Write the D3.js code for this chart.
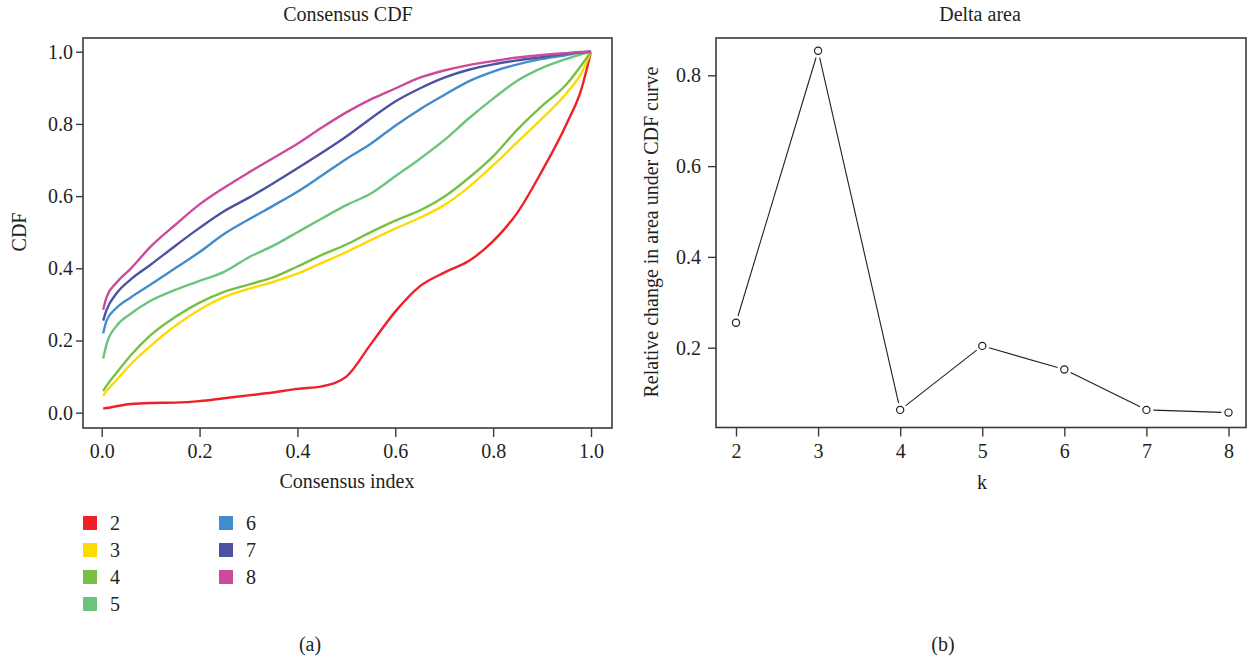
<!DOCTYPE html>
<html><head><meta charset="utf-8">
<script src="https://cdn.jsdelivr.net/npm/d3@7"></script>
<style>
body{margin:0;background:#fff}
text{font-family:"Liberation Serif","Times New Roman",serif;fill:#231f20}
</style>
</head><body>
<svg id="c" width="1249" height="659"></svg>
<script>
// ---- data ----
const consensusIndex = [0.003,0.01,0.03,0.06,0.1,0.15,0.2,0.25,0.3,0.35,0.4,0.45,0.5,0.55,0.6,0.65,0.7,0.75,0.8,0.85,0.9,0.95,0.98,1.0];
const cdf2 = [0.012,0.013,0.018,0.024,0.027,0.028,0.032,0.040,0.048,0.056,0.066,0.073,0.100,0.190,0.280,0.350,0.388,0.420,0.475,0.555,0.670,0.800,0.895,1.0];
const cdf3 = [0.047,0.060,0.090,0.135,0.185,0.240,0.285,0.320,0.343,0.362,0.385,0.415,0.445,0.478,0.510,0.540,0.575,0.625,0.685,0.750,0.815,0.885,0.940,1.0];
const cdf4 = [0.060,0.075,0.110,0.160,0.215,0.265,0.305,0.335,0.355,0.375,0.405,0.437,0.466,0.500,0.532,0.560,0.598,0.650,0.710,0.785,0.850,0.910,0.962,1.0];
const cdf5 = [0.150,0.190,0.240,0.275,0.310,0.340,0.365,0.390,0.430,0.462,0.500,0.538,0.575,0.607,0.655,0.703,0.755,0.815,0.870,0.920,0.955,0.980,0.993,1.0];
const cdf6 = [0.220,0.255,0.290,0.320,0.355,0.400,0.445,0.495,0.535,0.573,0.612,0.657,0.703,0.745,0.795,0.840,0.880,0.918,0.945,0.965,0.980,0.991,0.998,1.0];
const cdf7 = [0.255,0.285,0.330,0.370,0.410,0.462,0.512,0.558,0.595,0.635,0.677,0.720,0.765,0.815,0.862,0.898,0.928,0.950,0.965,0.976,0.985,0.995,0.998,1.0];
const cdf8 = [0.285,0.320,0.360,0.400,0.460,0.520,0.577,0.623,0.665,0.705,0.745,0.790,0.832,0.868,0.898,0.928,0.948,0.963,0.974,0.984,0.991,0.996,0.999,1.0];
const clusterLabels = ["2","3","4","5","6","7","8"];
const seriesColors = ["#ee2028","#fcdb00","#78c043","#6bc47e","#428bcc","#4b52a3","#cb4a9c"];
const clusterK = [2,3,4,5,6,7,8];
const deltaArea = [0.255,0.854,0.063,0.204,0.152,0.063,0.057];
const xTicksA = [0,0.2,0.4,0.6,0.8,1.0];
const yTicksA = [0,0.2,0.4,0.6,0.8,1.0];
const yTicksB = [0.2,0.4,0.6,0.8];

const cdfSeries = [cdf2,cdf3,cdf4,cdf5,cdf6,cdf7,cdf8];

const svg = d3.select("#c");
const FS = 20;
const fmt = d3.format(".1f");

// ---------- Panel (a) ----------
const boxA = {x0:83, x1:612, y0:38, y1:428};
const xA = d3.scaleLinear().domain([0,1]).range([101.7,591]);
const yA = d3.scaleLinear().domain([0,1]).range([412.7,51.7]);

const gA = svg.append("g");
const line = d3.line().x(d=>xA(d[0])).y(d=>yA(d[1])).curve(d3.curveMonotoneX);
cdfSeries.forEach((s,i)=>{
  gA.append("path")
    .datum(consensusIndex.map((x,j)=>[x,s[j]]))
    .attr("d",line).attr("fill","none")
    .attr("stroke",seriesColors[i]).attr("stroke-width",2.4)
    .attr("stroke-linejoin","round");
});
gA.append("rect").attr("x",boxA.x0).attr("y",boxA.y0)
  .attr("width",boxA.x1-boxA.x0).attr("height",boxA.y1-boxA.y0)
  .attr("fill","none").attr("stroke","#3a3a3a").attr("stroke-width",1.6);

const axXA = gA.append("g").attr("transform",`translate(0,${boxA.y1})`)
  .call(d3.axisBottom(xA).tickValues(xTicksA).tickFormat(fmt).tickSize(9).tickPadding(7));
const axYA = gA.append("g").attr("transform",`translate(${boxA.x0},0)`)
  .call(d3.axisLeft(yA).tickValues(yTicksA).tickFormat(fmt).tickSize(7).tickPadding(3));
[axXA,axYA].forEach(a=>{
  a.select(".domain").remove();
  a.selectAll("line").attr("stroke","#3a3a3a").attr("stroke-width",1.4);
  a.selectAll("text").style("font-size",FS+"px").attr("fill","#231f20");
});
gA.append("text").attr("x",348).attr("y",21).attr("text-anchor","middle").style("font-size",FS+"px").text("Consensus CDF");
gA.append("text").attr("x",347).attr("y",488).attr("text-anchor","middle").style("font-size",FS+"px").text("Consensus index");
gA.append("text").attr("transform","translate(26,232) rotate(-90)").attr("text-anchor","middle").style("font-size",FS+"px").text("CDF");

// legend
const leg = svg.append("g");
clusterLabels.forEach((lab,i)=>{
  const col = i<4?0:1, row = i<4?i:i-4;
  const lx = col===0?83:219, ly = 523 + row*27;
  leg.append("rect").attr("x",lx).attr("y",ly-7).attr("width",14).attr("height",14).attr("fill",seriesColors[i]);
  leg.append("text").attr("x",lx+27).attr("y",ly+6.5).style("font-size",FS+"px").text(lab);
});
svg.append("text").attr("x",310).attr("y",651).attr("text-anchor","middle").style("font-size","20px").text("(a)");

// ---------- Panel (b) ----------
const boxB = {x0:716, x1:1246, y0:38, y1:427.5};
const xB = d3.scaleLinear().domain([2,8]).range([736,1228.5]);
const yB = d3.scaleLinear().domain([0,0.8]).range([438.5,75.3]);
const gB = svg.append("g");
gB.append("rect").attr("x",boxB.x0).attr("y",boxB.y0)
  .attr("width",boxB.x1-boxB.x0).attr("height",boxB.y1-boxB.y0)
  .attr("fill","none").attr("stroke","#3a3a3a").attr("stroke-width",1.6);
const axXB = gB.append("g").attr("transform",`translate(0,${boxB.y1})`)
  .call(d3.axisBottom(xB).tickValues(clusterK).tickFormat(d3.format("d")).tickSize(9).tickPadding(7));
const axYB = gB.append("g").attr("transform",`translate(${boxB.x0},0)`)
  .call(d3.axisLeft(yB).tickValues(yTicksB).tickFormat(fmt).tickSize(8).tickPadding(7));
[axXB,axYB].forEach(a=>{
  a.select(".domain").remove();
  a.selectAll("line").attr("stroke","#3a3a3a").attr("stroke-width",1.4);
  a.selectAll("text").style("font-size",FS+"px").attr("fill","#231f20");
});
const pts = clusterK.map((k,i)=>[xB(k),yB(deltaArea[i])]);
const gap = 7;
for(let i=0;i<pts.length-1;i++){
  const [x1,y1]=pts[i],[x2,y2]=pts[i+1];
  const L=Math.hypot(x2-x1,y2-y1), ux=(x2-x1)/L, uy=(y2-y1)/L;
  gB.append("line").attr("x1",x1+ux*gap).attr("y1",y1+uy*gap)
    .attr("x2",x2-ux*gap).attr("y2",y2-uy*gap)
    .attr("stroke","#231f20").attr("stroke-width",1.1);
}
gB.selectAll("circle.p").data(pts).join("circle").attr("class","p")
  .attr("cx",d=>d[0]).attr("cy",d=>d[1]).attr("r",3.6)
  .attr("fill","#fff").attr("stroke","#231f20").attr("stroke-width",1.2);
gB.append("text").attr("x",980).attr("y",21).attr("text-anchor","middle").style("font-size",FS+"px").text("Delta area");
gB.append("text").attr("x",982).attr("y",489).attr("text-anchor","middle").style("font-size",FS+"px").text("k");
gB.append("text").attr("transform","translate(658,232) rotate(-90)").attr("text-anchor","middle").style("font-size",FS+"px").text("Relative change in area under CDF curve");
svg.append("text").attr("x",943).attr("y",651).attr("text-anchor","middle").style("font-size","20px").text("(b)");
</script>
</body></html>
